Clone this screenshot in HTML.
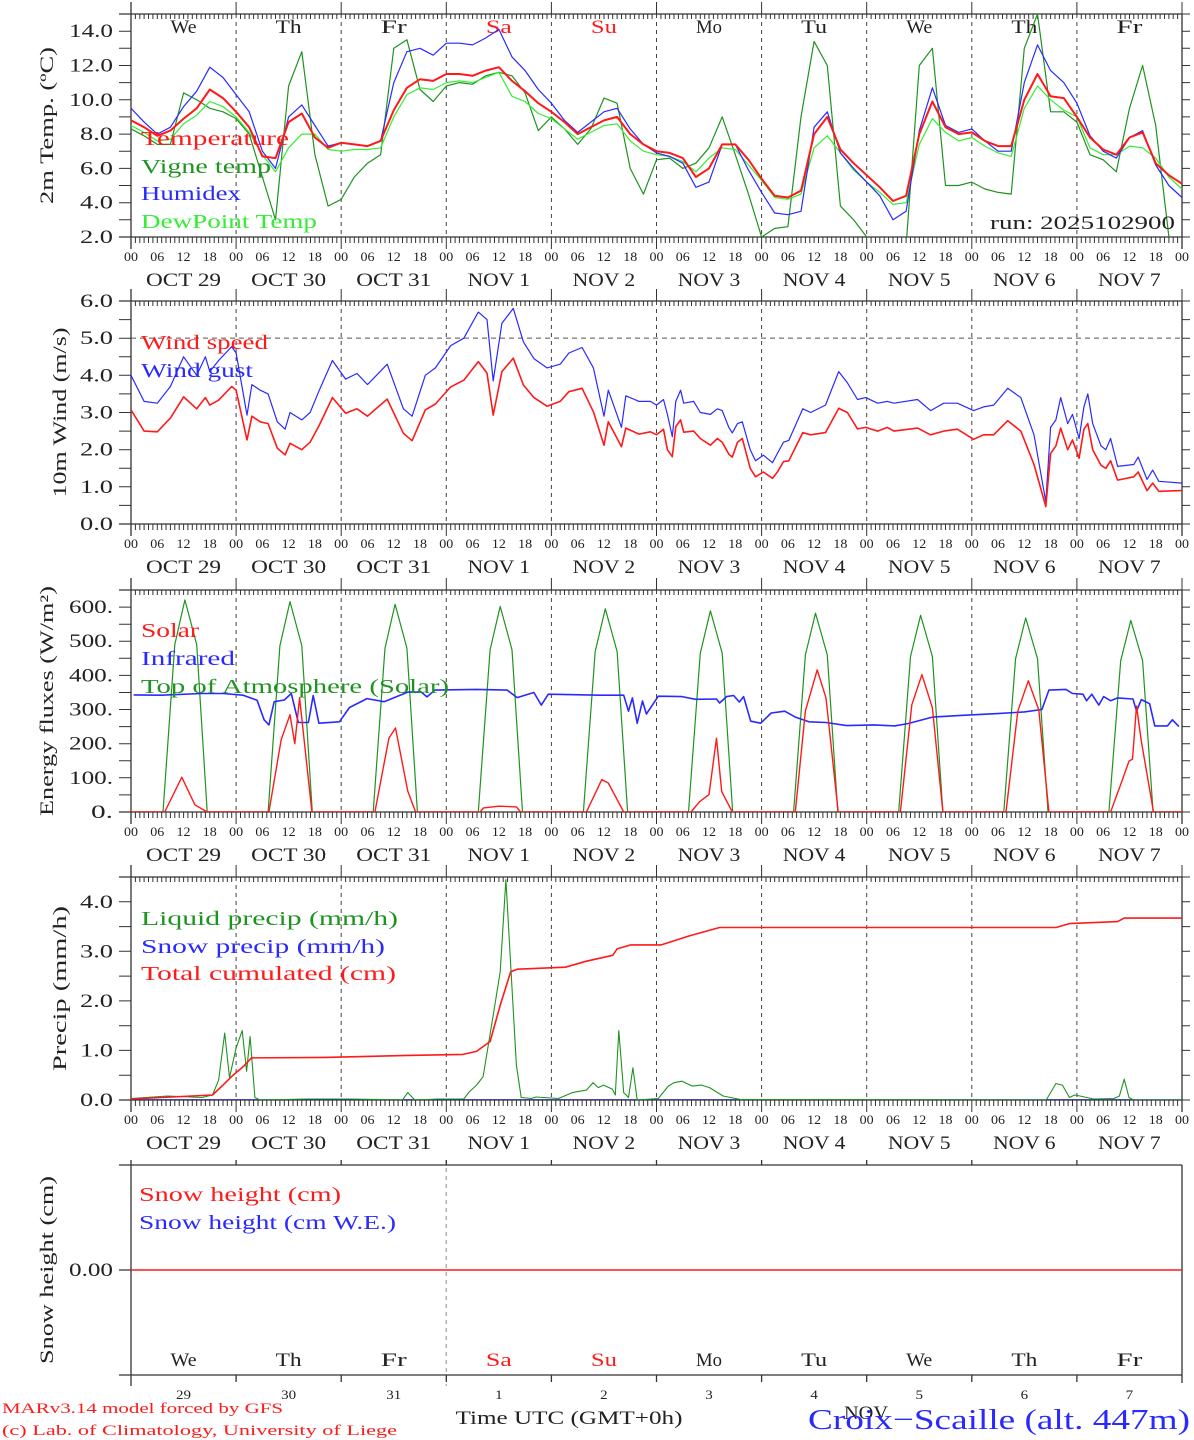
<!DOCTYPE html>
<html><head><meta charset="utf-8"><style>
html,body{margin:0;padding:0;background:#fff;}
svg{display:block;font-family:"Liberation Serif",serif;}
</style></head><body>
<svg id="chart" width="1194" height="1440" viewBox="0 0 1194 1440" xmlns="http://www.w3.org/2000/svg"></svg>
<script>
// ---------- DATA ----------
const dayNames = ["We","Th","Fr","Sa","Su","Mo","Tu","We","Th","Fr"];
const dayDates = ["OCT 29","OCT 30","OCT 31","NOV 1","NOV 2","NOV 3","NOV 4","NOV 5","NOV 6","NOV 7"];
const dayNums = ["29","30","31","1","2","3","4","5","6","7"];
const hourTicks = ["00","06","12","18"];

// temperatures on a 3-hourly grid (h = 0,3,...,240)
const tempC = [8.8,8.4,7.9,8.2,8.9,9.5,10.6,10.1, 9.3,8.4,6.7,6.6,8.7,9.2,7.8,7.2, 7.5,7.4,7.3,7.6,9.4,10.7,11.2,11.1,
 11.5,11.5,11.4,11.7,11.9,11.1,10.5,9.8, 9.3,8.7,8.0,8.4,8.8,9.0,8.0,7.4, 7.0,6.9,6.6,5.5,6.0,7.4,7.4,6.5,
 5.4,4.4,4.3,4.7,8.0,9.0,7.1,6.3, 5.6,4.9,4.1,4.4,8.0,9.9,8.4,8.0, 8.1,7.6,7.3,7.3,10.0,11.5,10.2,10.1, 9.0,7.8,7.1,6.8,7.8,8.1,6.3,5.6,5.1];
const vigneC = [8.3,7.9,7.4,7.4,10.4,10.0,9.5,9.3, 8.9,8.0,5.5,3.0,10.8,12.8,6.8,3.8, 4.2,5.5,6.3,6.8,13.0,13.5,10.6,9.9,
 10.8,11.0,10.9,11.4,11.6,11.4,10.4,8.2, 9.0,8.3,7.4,8.3,10.1,9.8,6.0,4.5, 6.5,6.6,6.0,6.3,7.2,9.0,6.8,4.5,
 2.0,2.5,2.6,9.0,13.4,12.0,3.8,3.0, 2.0,1.5,1.0,1.5,12.0,13.0,5.0,5.0, 5.2,4.8,4.6,4.5,13.0,15.0,9.3,9.3, 8.7,6.8,6.5,5.8,9.5,12.0,8.5,2.0,1.0];
const humidex = [9.5,8.7,8.0,8.4,9.6,10.5,11.9,11.3, 10.3,9.3,7.0,6.0,9.0,9.7,8.5,7.3, 7.5,7.4,7.3,7.6,11.0,12.8,13.0,12.6,
 13.3,13.3,13.2,13.6,14.1,12.5,11.7,10.6, 9.8,8.8,8.1,8.7,9.3,9.5,8.3,7.4, 6.9,6.7,6.3,4.9,5.2,7.4,7.4,5.9,
 4.6,3.4,3.3,3.5,8.4,9.3,6.9,6.0, 5.2,4.4,3.0,3.5,8.2,10.7,8.5,8.1, 8.3,7.6,7.0,7.0,11.0,13.2,11.7,11.0, 9.8,7.9,7.0,6.6,7.8,8.2,6.2,5.0,4.3];
const dewC = [8.5,8.1,7.6,7.7,8.6,9.1,9.9,9.6, 9.0,8.1,6.8,5.8,7.2,8.0,8.0,7.1, 7.0,7.1,7.1,7.2,9.0,10.3,10.7,10.6,
 11.0,11.1,11.0,11.3,11.6,10.2,9.9,9.2, 8.9,8.3,7.7,8.1,8.5,8.6,7.6,7.0, 6.8,6.7,6.4,5.8,6.6,7.2,7.1,6.2,
 5.3,4.3,4.2,4.5,7.2,7.9,6.9,5.9, 5.2,4.6,3.9,4.0,7.4,8.9,8.1,7.6, 7.8,7.3,6.9,6.7,9.5,10.8,10.0,9.4, 9.0,7.2,6.8,6.8,7.3,7.2,6.6,5.5,4.8];

const windHours = [0,3,6,9,12,15,17,18,20,23,24,26.5,27.6,29.5,31.3,33.4,35.2,36.3,39,40.9,43,46,49,51.6,54,58.5,62.2,64.2,67.2,69.5,
 73,76,79.3,81.3,82.7,84.7,87.3,89.6,92,95,98,100,103,105.6,108,109,112,113,116,118.6,120,121.6,122.5,123.6,124.4,125.5,126.2,128.5,130,132.3,
 133.9,135,136.5,137.3,138.5,139.6,141.4,142.6,144.4,146.5,147.6,149,150.2,153.4,155.2,158.6,161.6,163.6,165.9,167.8,170.5,172.7,174.2,179.6,182.6,185.6,188.7,192.4,194.7,197,
 200.2,203.2,206.2,208.9,210,211.2,212.3,213.9,215,216.5,217.6,218.5,219.6,221.5,222.6,223.7,225.3,229,230,232,233.3,234.7,240];
const windSpeed = [3.07,2.5,2.48,2.85,3.42,3.1,3.4,3.2,3.33,3.7,3.6,2.26,2.9,2.75,2.7,2.04,1.86,2.17,2.0,2.2,2.66,3.4,2.98,3.1,2.9,3.36,2.44,2.24,3.07,3.23,
 3.69,3.87,4.37,4.06,2.93,4.1,4.46,3.74,3.4,3.17,3.3,3.56,3.65,3.02,2.12,2.75,2.08,2.58,2.42,2.48,2.4,2.55,2.0,1.81,2.62,2.8,2.47,2.5,2.3,2.12,
 2.3,2.2,1.88,1.8,2.2,2.3,1.5,1.27,1.4,1.23,1.4,1.68,1.7,2.46,2.4,2.46,3.11,3.0,2.56,2.6,2.5,2.6,2.5,2.58,2.4,2.5,2.55,2.28,2.4,2.4,
 2.78,2.5,1.6,0.47,1.9,2.1,2.58,2.0,2.26,1.77,2.55,2.7,2.0,1.58,1.5,1.7,1.18,1.27,1.4,0.9,1.1,0.88,0.9];
const windGust = [4.0,3.3,3.25,3.7,4.5,4.0,4.5,4.1,4.4,4.77,4.6,2.93,3.75,3.6,3.5,2.75,2.55,3.0,2.8,3.0,3.6,4.4,3.9,4.05,3.75,4.3,3.1,2.9,4.0,4.2,
 4.8,5.0,5.7,5.5,3.85,5.4,5.8,4.9,4.45,4.2,4.3,4.6,4.75,4.2,2.9,3.6,2.6,3.45,3.3,3.3,3.2,3.35,2.95,2.35,3.3,3.6,3.25,3.3,3.0,2.95,
 3.1,3.05,2.6,2.45,2.7,2.75,2.0,1.7,1.85,1.65,1.9,2.2,2.25,3.1,3.0,3.2,4.1,3.8,3.35,3.4,3.25,3.3,3.25,3.35,3.05,3.25,3.25,3.05,3.15,3.2,
 3.65,3.4,2.4,0.6,2.6,2.8,3.4,2.7,2.95,2.3,3.15,3.5,2.7,2.1,2.0,2.3,1.55,1.6,1.8,1.2,1.45,1.15,1.1];

const solarHours = [0,7.7,11.6,14.6,17.4, 31.5,34.3,36.3,37.4,38.5,41.3, 55.7,58.9,60.4,63.2,65, 79.7,80.5,84,88,89, 104,107.5,109,112.5,
 127.9,129.8,132,133.7,134.9,137.3, 151.7,154,156.7,158.7,161.5, 175.7,178.3,180.6,183,185.4, 199.8,202.5,204.9,207.3,209.6,
 223.7,226.3,227.9,228.7,229.6,230.7,233.5,240];
const solarVals = [0,0,102,21,0, 0,212,285,200,334,0, 0,216,246,61,0, 0,12,17,15,0, 0,95,85,0,
 0,30,51,216,60,0, 0,296,416,334,0, 0,314,402,305,0, 0,295,384,299,0, 0,91,149,155,310,208,0,0];
const toaHours = [0, 7.3,10,12.3,15,17.4, 31.3,34,36.3,39,41.4, 55.3,58,60.3,63,65.4, 79.3,82,84.3,87,89.4, 103.3,106,108.3,111,113.4,
 127.3,130,132.3,135,137.4, 151.3,154,156.3,159,161.4, 175.3,178,180.3,183,185.4, 199.3,202,204.3,207,209.4, 223.3,226,228.3,231,233.4, 240];
const toaVals = [0, 0,490,621,490,0, 0,487,616,487,0, 0,480,608,480,0, 0,475,602,475,0, 0,470,595,470,0,
 0,465,589,465,0, 0,460,582,460,0, 0,455,576,455,0, 0,449,568,449,0, 0,443,561,443,0, 0];
const irHours = [0.6,6.9,16.2,21,25.6,28.8,30.4,31.5,32.7,35,36.6,38.2,40.5,41.6,42.9,47.6,49.9,53.9,57.8,63.2,66.3,67.6,69.4,78.9,85.9,88.2,92,93.7,95.3,
 107,112.5,113.6,114.5,115.6,116.8,117.7,120.4,125.8,128.9,133.7,134.4,136,137.6,138.9,139.9,141.5,143.8,146.2,149.3,151.7,154.8,158.7,163.4,169.6,174.4,177.5,
 183,190,197.9,204,208,209.6,213.5,215,217.4,218.2,219.4,221,222.1,223.7,225.3,228.8,229.6,230.7,232.6,233.8,236.7,237.8,239.3];
const irVals = [343,342,347,347,342,327,270,255,323,328,347,262,262,341,260,264,306,332,323,351,351,337,357,359,357,335,350,313,345,
 342,342,295,334,260,325,287,339,338,330,331,319,338,341,322,338,266,260,290,295,278,264,262,253,255,252,259,
 278,283,288,293,300,357,359,347,345,326,345,313,338,326,334,331,295,329,317,252,252,270,250];

const liqHours = [0,8.4,16.2,18.6,20,21.4,22.5,24,25.4,26.4,27.2,28.3,29.5,40,50,62,63.2,64.8,70,76,77.3,78.9,80.4,82.7,84.3,85.6,86.7,88,89.1,91.4,92.5,97.6,
 100.8,104,105.5,106.7,107.9,109.9,110.6,111.4,112.5,113.6,114.6,115.6,120.4,122.7,124,125.8,128.2,130.3,132.1,135.2,139.2,
 209,211.2,212.7,214.3,215.5,216.7,219.8,224.5,225.7,226.8,227.9,228.9,240];
const liqVals = [0.03,0.08,0.05,0.1,0.4,1.35,0.45,1.05,1.4,0.58,1.28,0.05,0,0.02,0.02,0,0.15,0,0.02,0.02,0.17,0.3,0.47,1.71,2.59,4.45,2.72,0.7,0.05,0.03,0.06,0.03,
 0.15,0.2,0.35,0.25,0.3,0.22,0.1,1.4,0.15,0.05,0.65,0,0.03,0.28,0.35,0.38,0.28,0.3,0.25,0.08,0.01,
 0,0.33,0.3,0.05,0.1,0.08,0.02,0.03,0.08,0.42,0.05,0,0];
const cumHours = [0,18.6,21,23.3,25.6,27.5,44.3,63.2,75.8,78.9,82,84.3,86.7,88.2,99.2,104,110,111,114.1,121.1,127.4,134.4,211.2,214.3,225.3,226.8,240];
const cumVals = [0.02,0.1,0.3,0.5,0.67,0.85,0.86,0.9,0.92,0.98,1.18,1.91,2.59,2.64,2.68,2.8,2.92,3.05,3.13,3.13,3.31,3.48,3.48,3.56,3.6,3.67,3.67];
const snowPrecip = [0,0];
const snowHeight = [0,0];

// ---------- DRAWING ----------
const NS = "http://www.w3.org/2000/svg";
const svg = document.getElementById("chart");
const X0 = 131, X1 = 1182, HOURS = 240;
function xs(h){ return X0 + h * (X1 - X0) / HOURS; }
function mk(tag, attrs, parent){
  const e = document.createElementNS(NS, tag);
  for (const k in attrs) e.setAttribute(k, attrs[k]);
  (parent || svg).appendChild(e);
  return e;
}
function txt(s, x, y, size, color, anchor, len, parent){
  const a = {x:x, y:y, "font-size":size, fill:color, "text-anchor":anchor||"start"};
  if (len){ a.textLength = len; a.lengthAdjust = "spacingAndGlyphs"; }
  const t = mk("text", a, parent);
  t.textContent = s;
  return t;
}

const panels = [
  {name:"temperature", top:14, bot:237, min:2, max:15, labStep:2, tickStep:1, fmt:v=>v.toFixed(1), title:"2m Temp. (ºC)", titleX:47, titleLen:157},
  {name:"wind", top:301, bot:524, min:0, max:6, labStep:1, tickStep:0.5, fmt:v=>v.toFixed(1), title:"10m Wind (m/s)", titleX:60, titleLen:170},
  {name:"energy", top:590, bot:812, min:0, max:650, labStep:100, tickStep:50, fmt:v=>v.toFixed(0)+".", title:"Energy fluxes (W/m²)", titleX:47, titleLen:230},
  {name:"precip", top:877, bot:1100, min:0, max:4.5, labStep:1, tickStep:0.5, fmt:v=>v.toFixed(1), title:"Precip (mm/h)", titleX:60, titleLen:165}
];
panels.forEach((p, pi) => {
  p.ys = v => p.bot - (v - p.min) * (p.bot - p.top) / (p.max - p.min);
  const g = mk("g", {});
  
  
  const cp = mk("clipPath", {id:"clip"+pi}, g);
  mk("rect", {x:X0, y:p.top, width:X1-X0, height:p.bot-p.top}, cp);
  // day dashed lines
  for (let d = 1; d < 10; d++){
    const l = mk("line", {x1:xs(d*24), x2:xs(d*24), y1:p.top, y2:p.bot, stroke:"#444", "stroke-width":1, "stroke-dasharray":"4,4"}, g);
    
    
  }
  // frame
  const fr = mk("path", {d:`M119 ${p.top}H${X1}M119 ${p.bot}H${X1}M${X0} ${p.top-12}V${p.bot+12}M${X1} ${p.top}V${p.bot+12}`, stroke:"#333", "stroke-width":1.3, fill:"none"}, g);
  
  
  // hourly ticks
  let td = "";
  for (let h = 0; h <= 240; h++){
    const x = xs(h).toFixed(1);
    if (h % 24 === 0){ td += `M${x} ${p.top-12}V${p.top}M${x} ${p.bot}V${p.bot+12}`; }
    else { td += `M${x} ${p.top}V${p.top+5}M${x} ${p.bot}V${p.bot+6}`; }
  }
  const tk = mk("path", {d:td, stroke:"#333", "stroke-width":1, fill:"none"}, g);
  
  
  // y ticks
  let yd = "";
  for (let v = p.min; v <= p.max + 1e-9; v += p.tickStep){
    const y = p.ys(v).toFixed(1);
    yd += `M119 ${y}H${X0}M${X1} ${y}H1190`;
  }
  const yt = mk("path", {d:yd, stroke:"#333", "stroke-width":1, fill:"none"}, g);
  
  
  for (let v = p.min; v <= p.max + 1e-9; v += p.labStep){
    const s = p.fmt(v);
    const t = txt(s, 113, p.ys(v) + 6, 19, "#222", "end", s.length * 11, g);
    
    
  }
  // y title
  const cy = (p.top + p.bot) / 2;
  const tt = txt(p.title, 0, 0, 19, "#222", "middle", p.titleLen, g);
  tt.setAttribute("transform", `translate(${p.titleX + 6},${cy}) rotate(-90)`);
  
  
  // hour labels and dates
  for (let d = 0; d < 10; d++){
    for (let k = 0; k < 4; k++){
      const t = txt(hourTicks[k], xs(d*24 + k*6), p.bot + 24, 13, "#222", "middle", 14, g);
      
      
    }
    const ds = txt(dayDates[d], xs(d*24 + 12), p.bot + 49, 19, "#222", "middle", dayDates[d].length * 12.5, g);
    
    
  }
  const last = txt("00", xs(240), p.bot + 24, 13, "#222", "middle", 14, g);
  
  
  p.g = g;
});

function series(p, pi, hours, vals, color, width, name){
  let d = "";
  vals.forEach((v, i) => { d += (i ? "L" : "M") + xs(hours[i]).toFixed(1) + " " + p.ys(v).toFixed(1); });
  const path = mk("path", {d:d, stroke:color, "stroke-width":width, fill:"none", "clip-path":`url(#clip${pi})`, "stroke-linejoin":"round"}, p.g);
  
  
}
function legend(p, s, x, y, color, len){
  const t = txt(s, x, y, 20, color, "start", len, p.g);
  
  
}
const RED = "#ff1a1a", BLUE = "#2a2aff", DG = "#1f931f", LG = "#33ee33";
const grid3 = tempC.map((v, i) => i * 3);

// Panel 1
const P1 = panels[0];
for (let d = 0; d < 10; d++){
  const col = (d === 3 || d === 4) ? RED : "#222";
  const t = txt(dayNames[d], xs(d*24 + 12), 33, 19, col, "middle", dayNames[d].length * 13, P1.g);
  
  
}
series(P1, 0, grid3, vigneC, DG, 1.2, "vigne-temp-line");
series(P1, 0, grid3, dewC, LG, 1.2, "dewpoint-line");
series(P1, 0, grid3, humidex, BLUE, 1.2, "humidex-line");
series(P1, 0, grid3, tempC, RED, 2, "temperature-line");
legend(P1, "Temperature", 141, 145, RED, 148);
legend(P1, "Vigne temp", 141, 173, DG, 130);
legend(P1, "Humidex", 141, 200, BLUE, 100);
legend(P1, "DewPoint Temp", 141, 228, LG, 176);
const run = txt("run: 2025102900", 990, 229, 19, "#222", "start", 185, P1.g);



// Panel 2
const P2 = panels[1];
const ref = mk("line", {x1:X0, x2:X1, y1:P2.ys(5), y2:P2.ys(5), stroke:"#555", "stroke-dasharray":"5,4", "stroke-width":1}, P2.g);


series(P2, 1, windHours, windGust, BLUE, 1.2, "wind-gust-line");
series(P2, 1, windHours, windSpeed, RED, 1.6, "wind-speed-line");
legend(P2, "Wind speed", 141, 349, RED, 127);
legend(P2, "Wind gust", 141, 377, BLUE, 112);

// Panel 3
const P3 = panels[2];
series(P3, 2, toaHours, toaVals, DG, 1.2, "toa-solar-line");
series(P3, 2, irHours, irVals, BLUE, 1.6, "infrared-line");
series(P3, 2, solarHours, solarVals, RED, 1.4, "solar-line");
legend(P3, "Solar", 141, 637, RED, 58);
legend(P3, "Infrared", 141, 665, BLUE, 94);
legend(P3, "Top of Atmosphere (Solar)", 141, 693, DG, 308);

// Panel 4
const P4 = panels[3];
series(P4, 3, [0,240], snowPrecip, "#1a1aa0", 1.6, "snow-precip-line");
series(P4, 3, liqHours, liqVals, DG, 1.1, "liquid-precip-line");
series(P4, 3, cumHours, cumVals, RED, 1.6, "cumulated-precip-line");
legend(P4, "Liquid precip (mm/h)", 141, 925, DG, 257);
legend(P4, "Snow precip (mm/h)", 141, 953, BLUE, 244);
legend(P4, "Total cumulated (cm)", 141, 980, RED, 255);

// Panel 5: snow height
const g5 = mk("g", {});


const S5top = 1165, S5bot = 1375, S5zero = 1270;
const d5 = mk("line", {x1:xs(72), x2:xs(72), y1:1160, y2:1386, stroke:"#aaa", "stroke-dasharray":"4,4", "stroke-width":1.3}, g5);


let f5 = `M119 ${S5top}H${X1}M119 ${S5bot}H${X1}M${X0} 1160V1386M${X1} ${S5top}V1383M119 ${S5zero}H${X0}`;
for (let d = 1; d < 10; d++){ const x = xs(d*24).toFixed(1); f5 += `M${x} ${S5top}V${S5top-5}M${x} ${S5bot}V${S5bot+7}`; }
const fr5 = mk("path", {d:f5, stroke:"#333", "stroke-width":1.3, fill:"none"}, g5);


const sh = mk("line", {x1:X0, x2:X1, y1:S5zero - snowHeight[0]*100, y2:S5zero - snowHeight[1]*100, stroke:RED, "stroke-width":1.6}, g5);


const z5 = txt("0.00", 113, S5zero + 6, 19, "#222", "end", 44, g5);


const t5 = txt("Snow height (cm)", 0, 0, 19, "#222", "middle", 188, g5);
t5.setAttribute("transform", `translate(53,${S5zero}) rotate(-90)`);


const l5a = txt("Snow height (cm)", 139, 1201, 20, RED, "start", 202, g5);


const l5b = txt("Snow height (cm W.E.)", 139, 1229, 20, BLUE, "start", 257, g5);


for (let d = 0; d < 10; d++){
  const col = (d === 3 || d === 4) ? RED : "#222";
  const t = txt(dayNames[d], xs(d*24 + 12), 1366, 19, col, "middle", dayNames[d].length * 13, g5);
  
  
  const n = txt(dayNums[d], xs(d*24 + 12), 1399, 13, "#222", "middle", dayNums[d].length * 7.5, g5);
  
  
}
const nov = txt("NOV", 866, 1419, 19, "#222", "middle", 44, g5);


const xt = txt("Time UTC (GMT+0h)", 569, 1424, 19, "#222", "middle", 227, g5);


const site = txt("Croix−Scaille (alt. 447m)", 808, 1429, 29, BLUE, "start", 382, g5);


const c1 = txt("MARv3.14 model forced by GFS", 2, 1413, 15, RED, "start", 281, g5);


const c2 = txt("(c) Lab. of Climatology, University of Liege", 2, 1435, 15, RED, "start", 395, g5);


</script>
</body></html>
